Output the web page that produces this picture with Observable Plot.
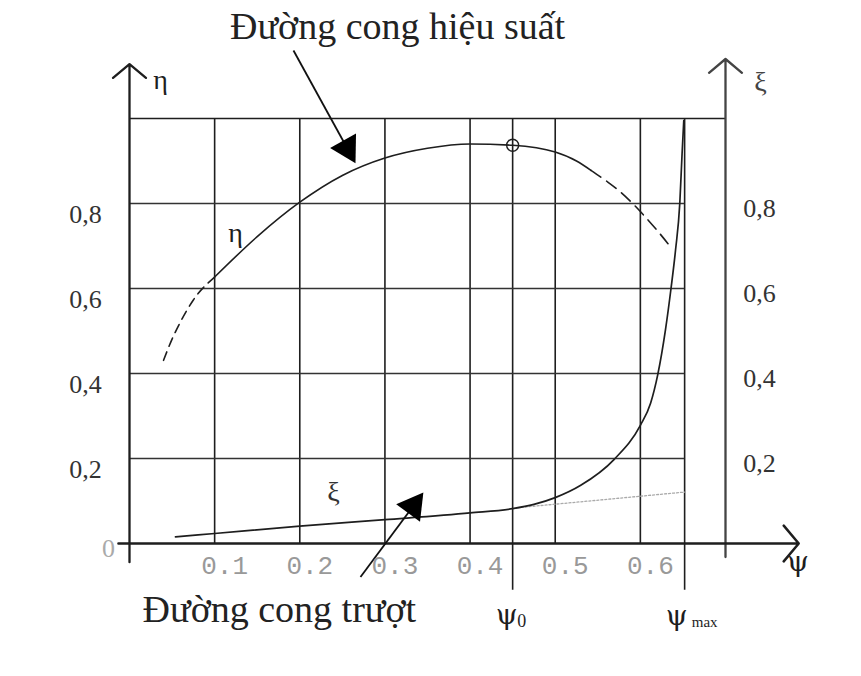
<!DOCTYPE html>
<html>
<head>
<meta charset="utf-8">
<script src="https://cdn.jsdelivr.net/npm/d3@7"></script>
<script src="https://cdn.jsdelivr.net/npm/@observablehq/plot@0.6"></script>
<style>
  body { margin: 0; background: #fff; }
  #title { height: 50px; box-sizing: border-box; padding-left: 230px; font: 38px "Liberation Serif", serif; line-height: 52px; color: #222; white-space: nowrap; }
</style>
</head>
<body>
<div id="title">Đường cong hiệu suất</div>
<div id="chart"></div>
<script>
// ---- grid / ticks ----
const xTicks = [0.1, 0.2, 0.3, 0.4, 0.5, 0.6];
const xTickLabels = ["0.1", "0.2", "0.3", "0.4", "0.5", "0.6"];
const yTicks = [0.2, 0.4, 0.6, 0.8];
const yTickLabels = ["0,2", "0,4", "0,6", "0,8"];
const psi0 = 0.45;
const psiMax = 0.652;

// ---- efficiency curve η(ψ) ----
const etaDashLeftPsi = [0.040, 0.050, 0.060, 0.075, 0.100];
const etaDashLeftVal = [0.431, 0.481, 0.522, 0.573, 0.627];
const etaSolidPsi = [0.1, 0.15, 0.2, 0.25, 0.3, 0.35, 0.4, 0.45, 0.5, 0.525, 0.542];
const etaSolidVal = [0.627, 0.722, 0.803, 0.866, 0.907, 0.930, 0.940, 0.937, 0.921, 0.900, 0.878];
const etaDashRightPsi = [0.542, 0.56, 0.575, 0.59, 0.6, 0.62, 0.637];
const etaDashRightVal = [0.878, 0.853, 0.830, 0.802, 0.781, 0.736, 0.694];

// ---- slip curve ξ(ψ) ----
const xiPsi = [0.054, 0.1, 0.2, 0.3, 0.4, 0.45, 0.475, 0.5, 0.53, 0.569, 0.6, 0.612, 0.6205, 0.6294, 0.636, 0.6413, 0.6463, 0.649, 0.651];
const xiVal = [0.0155, 0.0235, 0.041, 0.056, 0.072, 0.082, 0.092, 0.108, 0.137, 0.1975, 0.278, 0.330, 0.398, 0.5015, 0.600, 0.690, 0.800, 0.917, 0.995];
const xiLinPsi = [0.46, 0.652];
const xiLinVal = [0.085, 0.121];

// ---- annotation arrows (data units) ----
const arrowX1 = [0.1926, 0.2713];
const arrowY1 = [1.160, -0.079];
const arrowX2 = [0.2557, 0.3332];
const arrowY2 = [0.930, 0.0879];
const arrowRot = [151, 36.5];

// ---- labels ----
const captionText = ["Đường cong trượt"];
const captionX = [0.176];
const captionY = [-0.157];

const pts = (xs, ys) => xs.map((x, i) => ({x, y: ys[i]}));
const ink = "#1e1e1e";
const serif = "Liberation Serif, serif";
const greek = "DejaVu Serif, serif";

const chart = Plot.plot({
  width: 861,
  height: 626,
  marginLeft: 129,
  marginRight: 136,
  marginTop: 68,
  marginBottom: 133,
  x: {domain: [0, 0.7], axis: null},
  y: {domain: [0, 1], axis: null},
  style: {background: "white", overflow: "visible"},
  marks: [
    // grid
    Plot.ruleX(xTicks, {x: d => d, y1: 0, y2: 1, stroke: ink, strokeWidth: 1.6}),
    Plot.ruleX([psi0, psiMax], {x: d => d, y1: -0.11, y2: 1, stroke: ink, strokeWidth: 1.6}),
    Plot.ruleY(yTicks, {y: d => d, x1: 0, x2: psiMax, stroke: "#333", strokeWidth: 1.6}),
    Plot.ruleY([1], {y: d => d, x1: 0, x2: 0.7, stroke: ink, strokeWidth: 1.6}),
    // axes with arrows
    Plot.arrow([{x1: 0, y1: -0.044, x2: 0, y2: 1.128}], {x1: "x1", y1: "y1", x2: "x2", y2: "y2", stroke: ink, strokeWidth: 2.3, headAngle: 100, headLength: 14}),
    Plot.arrow([{x1: 0.7, y1: -0.032, x2: 0.7, y2: 1.14}], {x1: "x1", y1: "y1", x2: "x2", y2: "y2", stroke: "#444", strokeWidth: 2.3, headAngle: 100, headLength: 14}),
    Plot.arrow([{x1: -0.013, y1: 0, x2: 0.786, y2: 0}], {x1: "x1", y1: "y1", x2: "x2", y2: "y2", stroke: ink, strokeWidth: 2.5, headAngle: 100, headLength: 14}),
    // slip curve extension (dotted)
    Plot.line(pts(xiLinPsi, xiLinVal), {x: "x", y: "y", stroke: "#aaa", strokeWidth: 1.3, strokeDasharray: "2,2"}),
    // slip curve
    Plot.line(pts(xiPsi, xiVal), {x: "x", y: "y", stroke: ink, strokeWidth: 1.7, curve: "monotone-x"}),
    // efficiency curve
    Plot.line(pts(etaDashLeftPsi, etaDashLeftVal), {x: "x", y: "y", stroke: ink, strokeWidth: 1.6, curve: "monotone-x", strokeDasharray: "9,6"}),
    Plot.line(pts(etaSolidPsi, etaSolidVal), {x: "x", y: "y", stroke: ink, strokeWidth: 1.6, curve: "monotone-x"}),
    Plot.line(pts(etaDashRightPsi, etaDashRightVal), {x: "x", y: "y", stroke: ink, strokeWidth: 1.6, curve: "monotone-x", strokeDasharray: "12,7"}),
    // optimum point
    Plot.dot([{x: psi0, y: 0.937}], {x: "x", y: "y", r: 6, stroke: ink, strokeWidth: 1.4, fill: "none"}),
    // annotation arrows
    Plot.link(arrowX1.map((d, i) => i), {x1: i => arrowX1[i], y1: i => arrowY1[i], x2: i => arrowX2[i], y2: i => arrowY2[i], stroke: "#111", strokeWidth: 1.8}),
    Plot.dot(arrowX2.map((d, i) => i), {x: i => arrowX2[i], y: i => arrowY2[i], symbol: "triangle", r: 11, rotate: i => arrowRot[i], fill: "#000", stroke: "none"}),
    // tick labels
    Plot.text(yTicks, {x: 0, y: d => d, text: (d, i) => yTickLabels[i], dx: -44, dy: 11, fontFamily: serif, fontSize: 26, fill: "#333"}),
    Plot.text([0], {x: 0, y: 0, text: ["0"], dx: -21, dy: 5, fontFamily: serif, fontSize: 26, fill: "#aaa"}),
    Plot.text(yTicks, {x: 0.7, y: d => d, text: (d, i) => yTickLabels[i], dx: 34, dy: 5, fontFamily: serif, fontSize: 26, fill: "#333"}),
    Plot.text(xTicks, {x: d => d, y: 0, text: (d, i) => xTickLabels[i], dx: 10, dy: 22, fontFamily: "Liberation Mono, monospace", fontSize: 26, fill: "#999"}),
    // axis / curve labels
    Plot.text([0], {x: 0, y: 1, text: ["η"], dx: 31, dy: -38, fontFamily: serif, fontSize: 28, fill: ink}),
    Plot.text([0], {x: 0.7, y: 1, text: ["ξ"], dx: 35, dy: -36, fontFamily: serif, fontSize: 28, fill: "#444"}),
    Plot.text([0], {x: 0.785, y: 0, text: ["ψ"], dy: 19, fontFamily: greek, fontSize: 28, fill: ink}),
    Plot.text([0], {x: 0.1245, y: 0.73, text: ["η"], fontFamily: serif, fontSize: 28, fill: ink}),
    Plot.text([0], {x: 0.2396, y: 0.1206, text: ["ξ"], fontFamily: serif, fontSize: 28, fill: "#333"}),
    Plot.text([0], {x: psi0, y: 0, text: ["ψ"], dx: -6, dy: 72, fontFamily: greek, fontSize: 28, fill: ink}),
    Plot.text([0], {x: psi0, y: 0, text: ["0"], dx: 9, dy: 78, fontFamily: serif, fontSize: 18, fill: ink}),
    Plot.text([0], {x: psiMax, y: 0, text: ["ψ"], dx: -8, dy: 73, fontFamily: greek, fontSize: 28, fill: ink}),
    Plot.text([0], {x: psiMax, y: 0, text: ["max"], dx: 20, dy: 79, fontFamily: serif, fontSize: 15, fill: ink}),
    Plot.text(captionText, {x: (d, i) => captionX[i], y: (d, i) => captionY[i], text: d => d, fontFamily: serif, fontSize: 38, fill: "#222"})
  ]
});
document.getElementById("chart").appendChild(chart);
</script>
</body>
</html>
